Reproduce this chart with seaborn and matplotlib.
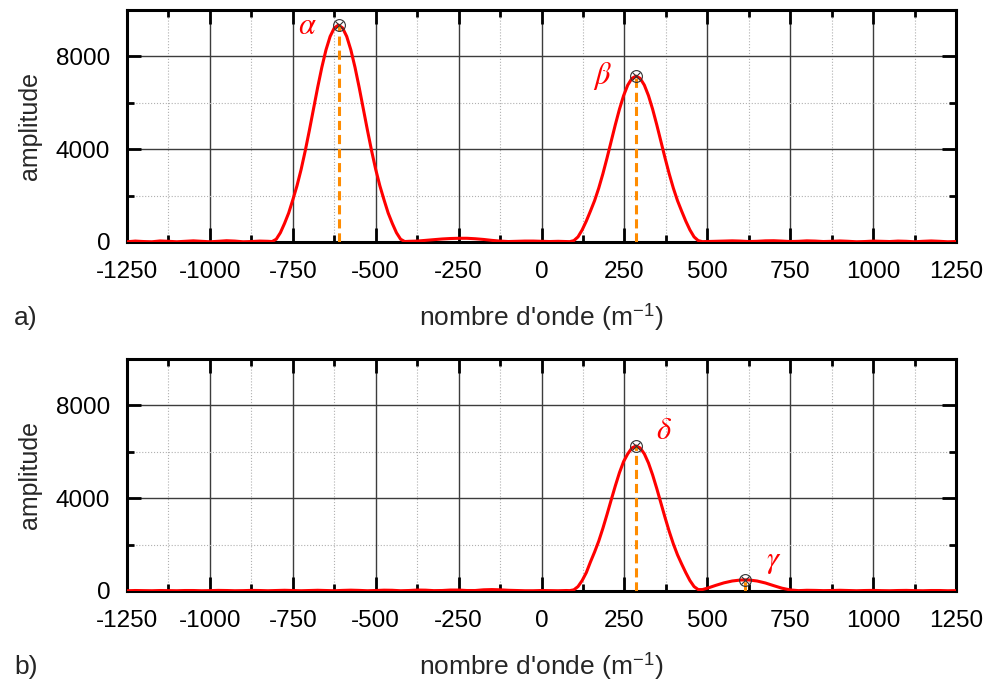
"""Spectres d'amplitude en nombre d'onde (deux panneaux a et b)."""

import matplotlib
matplotlib.use("Agg")
import matplotlib.pyplot as plt
import seaborn as sns

# --- données ---
k_a = [-1250, -1225, -1200, -1175, -1150, -1125, -1100, -1075, -1050, -1025,
       -1000, -975, -950, -925, -900, -875, -850, -825,
       -812.5, -800, -787.5, -775, -762.5, -750, -737.5, -725, -712.5, -700,
       -687.5, -675, -662.5, -650, -637.5, -625, -612.5, -600, -587.5, -575,
       -562.5, -550, -537.5, -525, -512.5, -500, -487.5, -475, -462.5, -450,
       -437.5, -425, -412.5,
       -400, -375, -350, -325, -300, -275, -250, -225, -200, -175,
       -150, -125, -100, -75, -50, -25, 0, 25, 50, 75,
       85, 97.5, 110, 122.5, 135, 147.5, 160, 172.5, 185, 197.5,
       210, 222.5, 235, 247.5, 260, 272.5, 285, 297.5, 310, 322.5,
       335, 347.5, 360, 372.5, 385, 397.5, 410, 422.5, 435, 447.5,
       460, 472.5, 485,
       500, 525, 550, 575, 600, 625, 650, 675, 700, 725,
       750, 775, 800, 825, 850, 875, 900, 925, 950, 975,
       1000, 1025, 1050, 1075, 1100, 1125, 1150, 1175, 1200, 1225, 1250]
amp_a = [10, 40, 20, 10, 45, 30, 10, 30, 50, 30,
         10, 30, 55, 40, 10, 20, 40, 30,
         20, 120, 400, 800, 1250, 1820, 2420, 3125, 3935, 4820,
         5745, 6670, 7530, 8280, 8860, 9225, 9350, 9225, 8860, 8280,
         7530, 6670, 5745, 4820, 3935, 3125, 2420, 1820, 1250, 800,
         400, 120, 20,
         30, 40, 70, 100, 130, 150, 160, 160, 140, 110,
         70, 40, 20, 30, 40, 40, 30, 20, 30, 20,
         15, 60, 220, 520, 900, 1332, 1783, 2321, 2939, 3620,
         4337, 5053, 5725, 6310, 6764, 7051, 7150, 7051, 6764, 6310,
         5725, 5053, 4337, 3620, 2939, 2321, 1783, 1332, 900, 520,
         220, 60, 15,
         20, 30, 40, 50, 40, 20, 30, 50, 55, 40,
         20, 30, 50, 40, 20, 30, 45, 30, 10, 20,
         40, 30, 20, 40, 30, 10, 30, 45, 30, 10, 20]

k_b = [-1250, -1225, -1200, -1175, -1150, -1125, -1100, -1075, -1050, -1025,
       -1000, -975, -950, -925, -900, -875, -850, -825, -800, -775,
       -750, -725, -700, -675, -650, -625, -600, -575, -550, -525,
       -500, -475, -450, -425, -400, -375, -350, -325, -300, -275,
       -250, -225, -200, -175, -150, -125, -100, -75, -50, -25,
       0, 25, 50, 75,
       85, 97.5, 110, 122.5, 135, 147.5, 160, 172.5, 185, 197.5,
       210, 222.5, 235, 247.5, 260, 272.5, 285, 297.5, 310, 322.5,
       335, 347.5, 360, 372.5, 385, 397.5, 410, 422.5, 435, 447.5,
       460, 472.5, 485,
       500, 525, 550, 575, 600, 614, 625, 650, 675, 700,
       725, 750, 775, 800, 825, 850, 875, 900, 925, 950,
       975, 1000, 1025, 1050, 1075, 1100, 1125, 1150, 1175, 1200, 1225, 1250]
amp_b = [10, 20, 15, 10, 20, 15, 10, 20, 20, 10,
         15, 25, 20, 10, 15, 25, 20, 10, 20, 30,
         20, 10, 20, 30, 20, 10, 25, 35, 25, 10,
         20, 35, 30, 10, 20, 40, 35, 15, 20, 40,
         40, 20, 20, 50, 60, 50, 30, 20, 10, 10,
         20, 15, 10, 20,
         15, 50, 190, 450, 790, 1250, 1680, 2150, 2700, 3300,
         3920, 4530, 5100, 5580, 5912, 6163, 6250, 6163, 5912, 5516,
         5004, 4417, 3791, 3164, 2569, 2029, 1559, 1164, 790, 450,
         190, 60, 60,
         120, 240, 350, 430, 472, 480, 475, 430, 345, 230,
         120, 45, 15, 30, 25, 15, 20, 30, 20, 10,
         20, 25, 15, 10, 20, 25, 15, 10, 20, 20, 10, 15]

# pics repérés : position, amplitude, nom et position du nom
pics_a = [(-612, 9350), (285, 7150)]
noms_a = [r"$\alpha$", r"$\beta$"]
pos_noms_a = [(-705, 9300), (185, 7150)]

pics_b = [(285, 6250), (614, 480)]
noms_b = [r"$\delta$", r"$\gamma$"]
pos_noms_b = [(368, 6900), (700, 1300)]

x_ticks = [-1250, -1000, -750, -500, -250, 0, 250, 500, 750, 1000, 1250]

sns.set_theme(style="white")
plt.rcParams["font.family"] = ["Liberation Sans", "DejaVu Sans"]
plt.rcParams["mathtext.fontset"] = "stix"

fig = plt.figure(figsize=(9.9, 6.84), dpi=100)
ax_a = fig.add_axes([0.1283, 0.6462, 0.8374, 0.3392])
ax_b = fig.add_axes([0.1283, 0.1360, 0.8374, 0.3392])


def trace_panneau(ax, k, amp, pics, noms, pos_noms, lettre):
    ax.set_axisbelow(True)
    ax.grid(which="major", color="#3c3c3c", linewidth=1.0, linestyle="-")
    ax.grid(which="minor", color="#b0b0b0", linewidth=0.8, linestyle=":")

    sns.lineplot(x=k, y=amp, ax=ax, color="#ff0000", linewidth=2.2, zorder=3)

    for (kp, ap), nom, (xt, yt) in zip(pics, noms, pos_noms):
        ax.plot([kp, kp], [0, ap], color="#ff8c00", linestyle=(0, (3, 1.6)),
                linewidth=2.2, zorder=4)
        ax.plot(kp, ap, marker="o", markersize=8.5, markerfacecolor="none",
                markeredgecolor="#333333", markeredgewidth=0.8, zorder=5)
        ax.plot(kp, ap, marker="x", markersize=6, color="#333333",
                markeredgewidth=0.8, zorder=5)
        ax.text(xt, yt, nom, color="#ff0000", fontsize=22,
                ha="center", va="center")

    ax.set_xlim(-1250, 1250)
    ax.set_ylim(0, 10000)
    ax.set_xticks(x_ticks)
    ax.set_xticks([t + 125 for t in x_ticks[:-1]], minor=True)
    ax.set_yticks([0, 4000, 8000])
    ax.set_yticks([2000, 6000], minor=True)
    ax.set_xticklabels([str(t) for t in x_ticks])
    ax.tick_params(which="both", direction="in", bottom=True, left=True,
                   top=True, right=True, colors="black", width=2)
    ax.tick_params(which="major", length=10, pad=12, labelsize=17.5)
    ax.tick_params(axis="x", which="major", pad=14)
    ax.tick_params(which="minor", length=5)
    for sp in ax.spines.values():
        sp.set_linewidth(2.2)
        sp.set_color("black")

    ax.set_ylabel("amplitude", fontsize=18, labelpad=10)
    ax.set_xlabel(r"nombre d'onde (m$^{\mathregular{-1}}$)", fontsize=19,
                  labelpad=13)
    ax.text(-0.136, -0.328, lettre, transform=ax.transAxes, fontsize=19,
            ha="left", va="center")


trace_panneau(ax_a, k_a, amp_a, pics_a, noms_a, pos_noms_a, "a)")
trace_panneau(ax_b, k_b, amp_b, pics_b, noms_b, pos_noms_b, "b)")

fig.savefig("out.png", dpi=100)
plt.close("all")
